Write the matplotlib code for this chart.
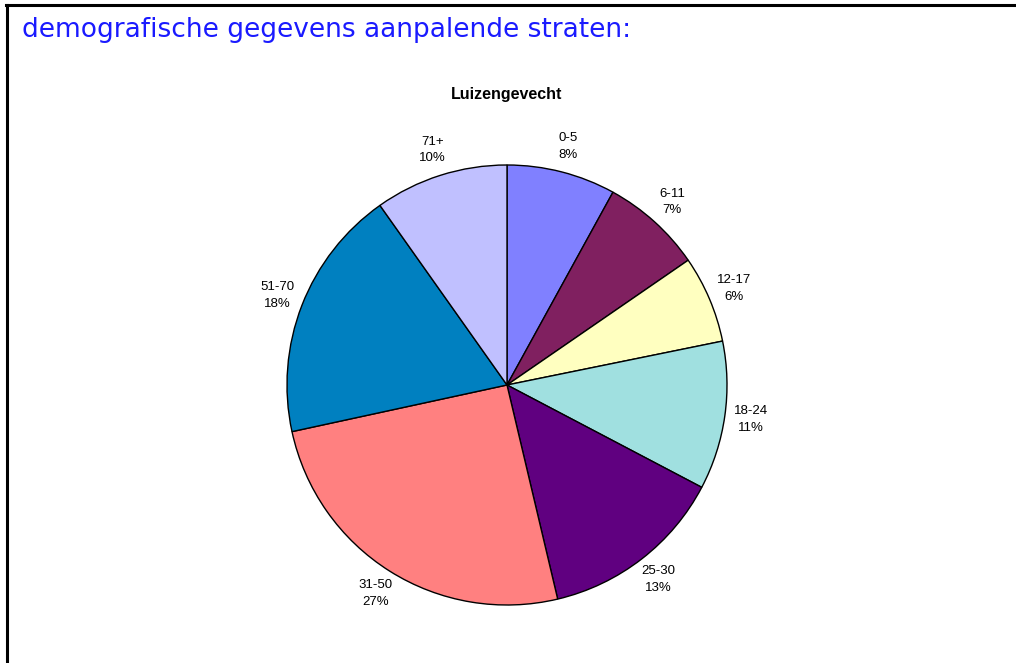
# -*- coding: utf-8 -*-
"""
 - taartdiagram leeftijdsgroepen Luizengevecht
"""

import matplotlib.pyplot as plt
from matplotlib.lines import Line2D

plt.rcParams['font.family'] = ['Liberation Sans', 'DejaVu Sans']

# data (sectorgrootte zoals getekend, labels zoals afgedrukt)
groepen = ['0-5', '6-11', '12-17', '18-24', '25-30', '31-50', '51-70', '71+']
aandeel = [8.0, 7.4, 6.4, 10.9, 13.6, 25.3, 18.6, 9.8]
procent = [8, 7, 6, 11, 13, 27, 18, 10]
kleuren = ['#8080FF', '#802060', '#FFFFC0', '#A0E0E0',
           '#600080', '#FF8080', '#0080C0', '#C0C0FF']

W, H = 1016, 663
fig = plt.figure(figsize=(W / 100, H / 100), dpi=100)

# kader (boven en links)
fig.add_artist(Line2D([6 / W, 1], [1 - 5 / H, 1 - 5 / H], color='black', lw=2.2))
fig.add_artist(Line2D([7 / W, 7 / W], [0, 1 - 5 / H], color='black', lw=2.2))

fig.text(22 / W, 1 - 30 / H, 'demografische gegevens aanpalende straten:',
         color='#1a1aff', fontsize=19, family=['DejaVu Sans'],
         va='center', ha='left')

# taart: centrum (507, 385), straal 220 px
r = 220
cx, cy = 507, 385
ax = fig.add_axes([(cx - r) / W, (H - cy - r) / H, 2 * r / W, 2 * r / H])
labels = [f'{g}\n{p}%' for g, p in zip(groepen, procent)]
wedges, texts = ax.pie(aandeel, colors=kleuren, startangle=90, counterclock=False,
                       labels=labels, labeldistance=1.12,
                       wedgeprops=dict(edgecolor='black', linewidth=1.0),
                       textprops=dict(fontsize=9.5, ha='center', va='center',
                                      linespacing=1.5))
for t in texts:
    t.set_ha('center')
ax.set_xlim(-1, 1)
ax.set_ylim(-1, 1)
ax.set_aspect('equal')

fig.text(cx / W, 1 - 94 / H, 'Luizengevecht', fontsize=11.5, fontweight='bold',
         ha='center', va='center')

plt.savefig('out.png', dpi=100)
